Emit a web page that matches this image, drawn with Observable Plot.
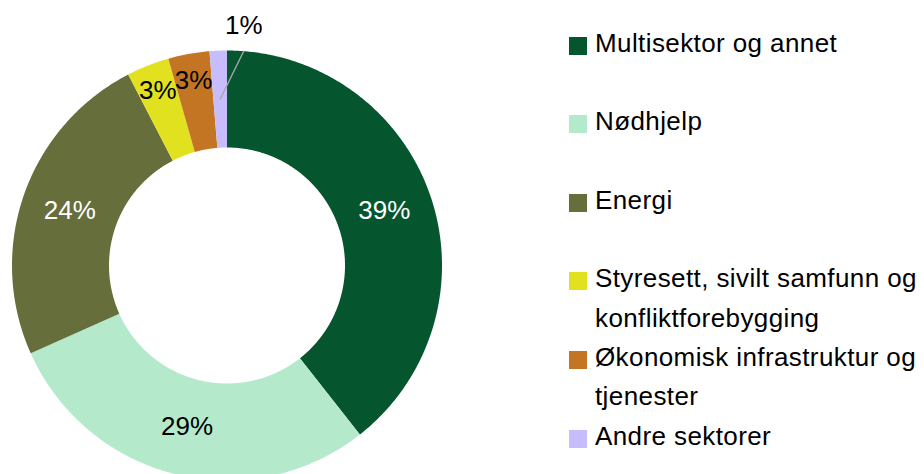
<!DOCTYPE html>
<html><head><meta charset="utf-8">
<script src="https://cdn.jsdelivr.net/npm/d3@7"></script>
<script src="https://cdn.jsdelivr.net/npm/@observablehq/plot@0.6"></script>
<style>
body{margin:0;background:#fff;}
#wrap{position:relative;width:924px;height:474px;overflow:hidden;font-family:"Liberation Sans",Arial,sans-serif;}
#legend{position:absolute;left:569px;top:23.6px;width:355px;font-size:26px;line-height:39.3px;letter-spacing:0.4px;color:#000;}
.item{display:flex;min-height:78.6px;}
.sw{width:18px;height:18px;flex:none;margin-top:13px;margin-right:8px;}
</style></head><body><div id="wrap"><div id="legend"></div></div>
<script>
const sectors = ["Multisektor og annet", "Nødhjelp", "Energi", "Styresett, sivilt samfunn og konfliktforebygging", "Økonomisk infrastruktur og tjenester", "Andre sektorer"];
const shares = [39.4, 28.9, 24.1, 3.2, 3.1, 1.3];
const labels = ["39%", "29%", "24%", "3%", "3%", "1%"];
const colors = ["#05552f", "#b4eacb", "#666e3c", "#e2e120", "#c47524", "#c8bdfc"];
const labelColors = ["#ffffff", "#000000", "#ffffff", "#000000", "#000000", "#000000"];

const R = 1, r0 = 118 / 215;
const FONT = '"Liberation Sans", Arial, sans-serif';

const table = sectors.map((s, i) => ({sector: s, share: shares[i], label: labels[i], color: colors[i], labelColor: labelColors[i]}));
const arcs = d3.pie().sort(null).value(d => d.share).startAngle(0).endAngle(2 * Math.PI)(table);

// polygon points for each slice (angles clockwise from 12 o'clock)
const pt = (rad, a) => ({x: rad * Math.sin(a), y: rad * Math.cos(a)});
const polys = [];
arcs.forEach(a => {
  const n = Math.max(2, Math.ceil((a.endAngle - a.startAngle) / (Math.PI / 360)) + 1);
  for (let k = 0; k < n; k++) {
    const t = a.startAngle + (a.endAngle - a.startAngle) * k / (n - 1);
    polys.push({...pt(R, t), sector: a.data.sector, color: a.data.color});
  }
  for (let k = n - 1; k >= 0; k--) {
    const t = a.startAngle + (a.endAngle - a.startAngle) * k / (n - 1);
    polys.push({...pt(r0, t), sector: a.data.sector, color: a.data.color});
  }
});

const midR = (R + r0) / 2;
const inLabels = [], outLabels = [], leaders = [];
arcs.forEach(a => {
  const m = (a.startAngle + a.endAngle) / 2;
  if (a.data.share >= 5) inLabels.push({...pt(midR, m), ...a.data});
  else if (a.data.share >= 2) inLabels.push({...pt(0.875, m), ...a.data});
  else {
    const s = pt(midR, m), e = pt(R, m + 6.8 * Math.PI / 180);
    leaders.push({x: s.x, y: s.y, sector: a.data.sector}, {x: e.x, y: e.y, sector: a.data.sector});
    outLabels.push({...e, ...a.data});
  }
});

const marks = sectors.map((s, i) => Plot.line(polys.filter(d => d.sector === s), {x: "x", y: "y", fill: colors[i], stroke: "none", curve: "linear"}));
marks.push(Plot.line(leaders, {x: "x", y: "y", z: "sector", stroke: "#a6a6a6", strokeWidth: 1.3}));
marks.push(Plot.text(inLabels, {x: "x", y: "y", text: "label", fill: "labelColor", fontSize: 26}));
marks.push(Plot.text(outLabels, {x: "x", y: "y", text: "label", fill: "labelColor", fontSize: 26, dy: -25}));

const chart = Plot.plot({
  width: 924, height: 474, margin: 0,
  x: {domain: [-1, 1], range: [11.5, 441.5], axis: null},
  y: {domain: [-1, 1], range: [480, 50], axis: null},
  color: {type: "identity"},
  style: {fontFamily: FONT, background: "white"},
  marks
});
const wrap = document.getElementById("wrap");
wrap.insertBefore(chart, wrap.firstChild);

const legend = d3.select("#legend");
table.forEach(d => {
  const it = legend.append("div").attr("class", "item");
  it.append("div").attr("class", "sw").style("background", d.color);
  it.append("div").text(d.sector);
});
</script></body></html>
